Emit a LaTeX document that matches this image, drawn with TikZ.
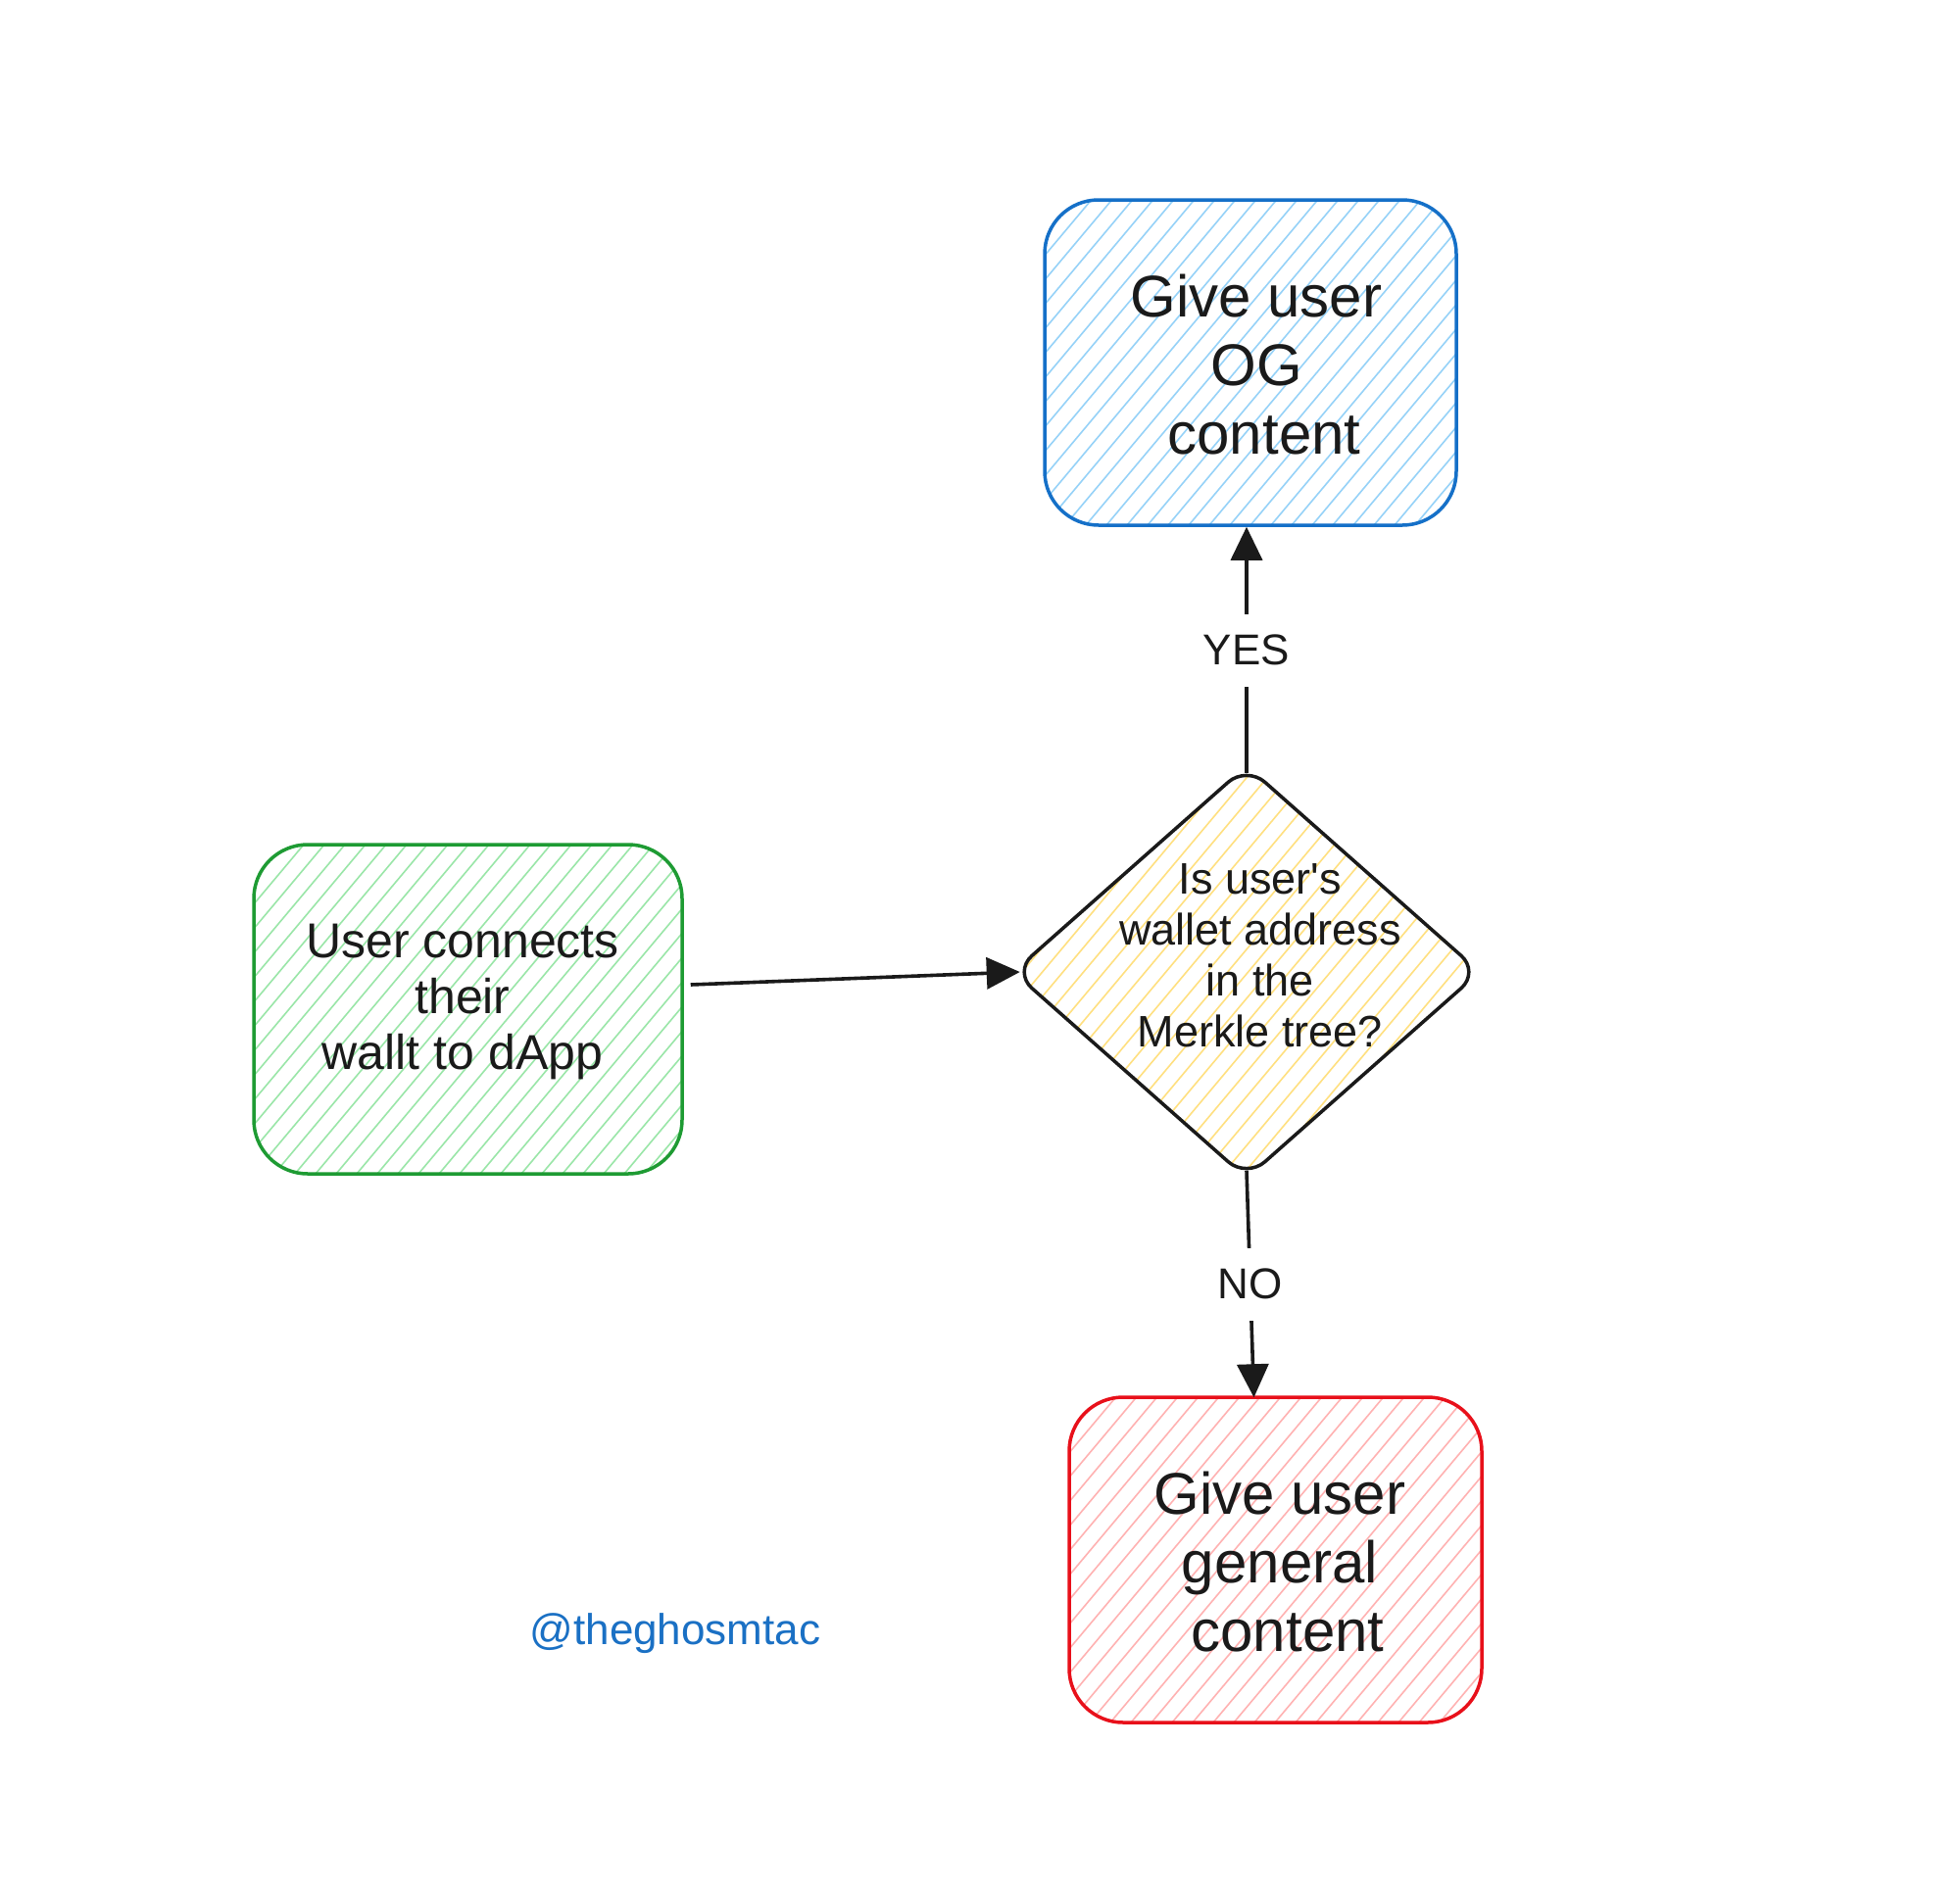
\documentclass[tikz,border=0pt]{standalone}
\usepackage{fontspec}
\setmainfont{Liberation Sans}
\usetikzlibrary{arrows.meta,shapes.geometric}
\definecolor{bluestroke}{HTML}{1570C8}
\definecolor{bluehatch}{HTML}{96D2F8}
\definecolor{greenstroke}{HTML}{1E9B33}
\definecolor{greenhatch}{HTML}{9AE6A8}
\definecolor{redstroke}{HTML}{E8101A}
\definecolor{redhatch}{HTML}{FFB2B2}
\definecolor{yellowhatch}{HTML}{FFE080}
\definecolor{ink}{HTML}{1A1A1A}
\definecolor{tagblue}{HTML}{1A70C4}
\begin{document}
\begin{tikzpicture}[x=1pt,y=-1pt,
  hatchfill/.style={path picture={
     \foreach \i in {-30,...,30}{
       \draw[draw=#1, line width=1.6pt] ([xshift=\i*21pt]path picture bounding box.south west) -- ++(50:900pt);
     }}},
  roundbox/.style={draw=#1, line width=3.5pt, rounded corners=55pt, inner sep=0pt},
  boxtext/.style={align=center, text=ink, inner sep=0pt},
  arrowline/.style={draw=ink, line width=3.6pt, -{Triangle[length=34pt,width=32pt]}},
  lbl/.style={fill=white, text=ink, font=\fontsize{44}{50}\selectfont, inner sep=0pt, minimum height=74pt, minimum width=40pt}
]
\useasboundingbox[fill=white] (0,0) rectangle (2000,1930);

% boxes
\node[roundbox=bluestroke, hatchfill=bluehatch, minimum width=420pt, minimum height=332pt] (og) at (1276,370) {};
\node[roundbox=greenstroke, hatchfill=greenhatch, minimum width=437pt, minimum height=336pt] (green) at (477.5,1030) {};
\node[roundbox=redstroke, hatchfill=redhatch, minimum width=421pt, minimum height=332pt] (red) at (1301.5,1592) {};
\node[shape=diamond, draw=ink, line width=3.5pt, rounded corners=25pt, minimum width=477pt, minimum height=422pt, inner sep=0pt, hatchfill=yellowhatch] (dia) at (1272,992) {};

% texts
\node[boxtext, font=\fontsize{60}{70}\selectfont] (ogtext) at (1282,372) {Give user\\OG\\\hspace*{16pt}content};
\node[boxtext, font=\fontsize{50}{57}\selectfont] (greentext) at (472,1022) {User connects\\their\\wallt to dApp};
\node[boxtext, font=\fontsize{45}{52}\selectfont] (diatext) at (1286,975) {Is user\textquotesingle s\\wallet address\\in the\\Merkle tree?};
\node[boxtext, font=\fontsize{60}{70}\selectfont] (redtext) at (1306,1594) {Give user\\general\\\hspace*{16pt}content};
\node[text=tagblue, font=\fontsize{44}{50}\selectfont, inner sep=0pt] (tag) at (689,1667) {@theghosmtac};

% connectors
\draw[arrowline] ([xshift=7pt,yshift=25pt]green.east) -- ([xshift=9pt]dia.west);
\draw[arrowline] ([yshift=-10pt]dia.north) -- node[lbl] (yes) {YES} ([xshift=-4pt]og.south);
\draw[arrowline] ([yshift=10pt]dia.south) -- node[lbl] (no) {NO} ([xshift=-22pt,yshift=-2pt]red.north);
\end{tikzpicture}
\end{document}
